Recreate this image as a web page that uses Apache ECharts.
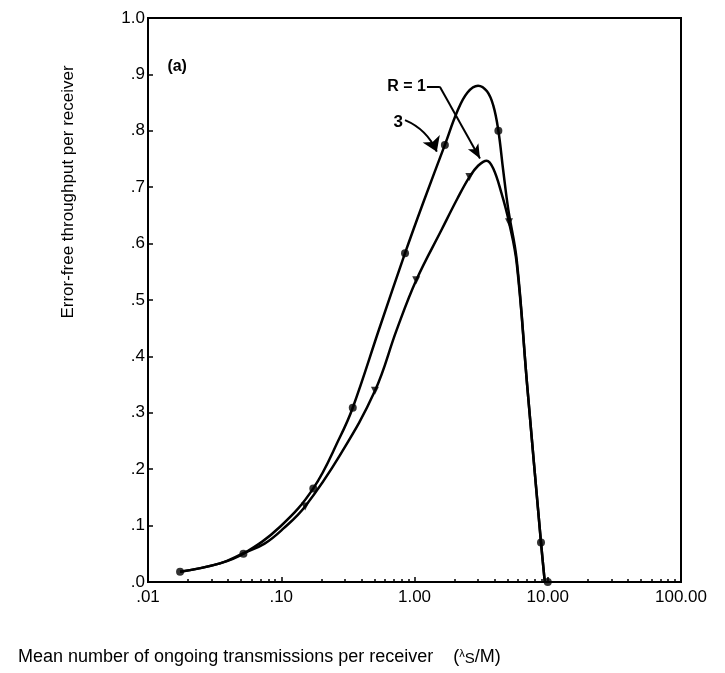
<!DOCTYPE html>
<html>
<head>
<meta charset="utf-8">
<script src="https://cdn.jsdelivr.net/npm/echarts@6/dist/echarts.min.js"></script>
<style>
  html, body { margin: 0; padding: 0; background: #fff; }
  #chart { width: 725px; height: 673px; }
</style>
</head>
<body>
<div id="chart"></div>
<script>
// R = 1 curve
var r1X = [0.0174, 0.0347, 0.052, 0.098, 0.174, 0.276, 0.344, 0.551, 0.849, 1.16, 1.69, 2.1, 2.5, 3.0, 3.5, 3.9, 4.26, 4.63, 5.06, 5.85, 7.0, 8.9, 9.5];
var r1Y = [0.018, 0.033, 0.050, 0.098, 0.166, 0.257, 0.309, 0.453, 0.583, 0.672, 0.775, 0.835, 0.868, 0.880, 0.870, 0.845, 0.800, 0.730, 0.660, 0.571, 0.35, 0.07, 0.0];
// R = 1 plotted points (circles)
var r1MarkX = [0.0174, 0.052, 0.174, 0.344, 0.849, 1.69, 4.26, 8.9, 10.0];
var r1MarkY = [0.018, 0.050, 0.166, 0.309, 0.583, 0.775, 0.800, 0.07, 0.0];

// R = 3 curve
var r3X = [0.0174, 0.0347, 0.052, 0.075, 0.104, 0.151, 0.276, 0.505, 0.735, 1.03, 1.6, 2.1, 2.58, 3.0, 3.48, 3.90, 4.50, 5.12, 5.85, 7.0, 8.9, 9.5];
var r3Y = [0.018, 0.033, 0.051, 0.068, 0.095, 0.134, 0.225, 0.339, 0.447, 0.535, 0.625, 0.680, 0.718, 0.738, 0.747, 0.733, 0.689, 0.638, 0.565, 0.35, 0.07, 0.0];
// R = 3 plotted points (triangles)
var r3MarkX = [0.151, 0.505, 1.03, 2.58, 5.12];
var r3MarkY = [0.134, 0.339, 0.535, 0.718, 0.638];

var font = 'Liberation Sans, Arial, sans-serif';

function pairs(xs, ys) {
    return xs.map(function (x, i) { return [x, ys[i]]; });
}

var myChart = echarts.init(document.getElementById('chart'));

var option = {
    animation: false,
    grid: {
        left: 148, right: 44, top: 18, bottom: 91,
        show: true,
        borderColor: '#000',
        borderWidth: 2
    },
    xAxis: {
        type: 'log',
        logBase: 10,
        min: 0.01,
        max: 100,
        axisLine: { lineStyle: { color: '#000', width: 2 } },
        axisTick: { inside: true, length: 5, lineStyle: { color: '#000', width: 1.5 } },
        minorTick: { show: true, splitNumber: 9, length: 3, lineStyle: { color: '#000', width: 1.5 } },
        splitLine: { show: false },
        axisLabel: {
            color: '#000',
            fontFamily: font,
            fontSize: 17,
            margin: 7,
            formatter: function (v) {
                return v < 1 ? v.toFixed(2).slice(1) : v.toFixed(2);
            }
        }
    },
    yAxis: {
        type: 'value',
        min: 0,
        max: 1,
        interval: 0.1,
        axisLine: { lineStyle: { color: '#000', width: 2 } },
        axisTick: { inside: true, length: 5, lineStyle: { color: '#000', width: 1.5 } },
        splitLine: { show: false },
        axisLabel: {
            color: '#000',
            fontFamily: font,
            fontSize: 17,
            margin: 3,
            formatter: function (v) {
                return v >= 1 ? '1.0' : '.' + Math.round(v * 10);
            }
        }
    },
    series: [
        {
            name: 'R=1',
            type: 'line',
            smooth: 0.4,
            showSymbol: false,
            lineStyle: { color: '#000', width: 2.5 },
            data: pairs(r1X, r1Y),
            // arrow from the "R = 1" label
            markLine: {
                silent: true,
                symbol: ['none', 'none'],
                label: { show: false },
                lineStyle: { color: '#000', width: 2, type: 'solid' },
                data: [
                    [{ coord: [1.24, 0.878] }, { coord: [1.55, 0.878] }],
                    [{ coord: [1.55, 0.878] }, { coord: [3.10, 0.751], symbol: 'arrow', symbolSize: [9, 14] }]
                ]
            }
        },
        {
            name: 'R=3',
            type: 'line',
            smooth: 0.4,
            showSymbol: false,
            lineStyle: { color: '#000', width: 2.5 },
            data: pairs(r3X, r3Y)
        },
        {
            // curved arrow from the "3" label
            name: 'arrow3',
            type: 'lines',
            coordinateSystem: 'cartesian2d',
            silent: true,
            symbol: ['none', 'arrow'],
            symbolSize: [9, 14],
            lineStyle: { color: '#000', width: 2, opacity: 1, curveness: 0.2 },
            data: [{ coords: [[0.849, 0.819], [1.47, 0.763]] }]
        },
        {
            name: 'R=1 points',
            type: 'scatter',
            symbol: 'circle',
            symbolSize: 8,
            itemStyle: { color: '#000' },
            data: pairs(r1MarkX, r1MarkY)
        },
        {
            name: 'R=3 points',
            type: 'scatter',
            symbol: 'triangle',
            symbolRotate: 180,
            symbolSize: 8,
            itemStyle: { color: '#000' },
            data: pairs(r3MarkX, r3MarkY)
        }
    ]
};
myChart.setOption(option);

// text labels placed in data coordinates
var pA = myChart.convertToPixel({ gridIndex: 0 }, [0.0172, 0.910]);
var pR = myChart.convertToPixel({ gridIndex: 0 }, [1.22, 0.878]);
var p3 = myChart.convertToPixel({ gridIndex: 0 }, [0.82, 0.815]);

myChart.setOption({
    graphic: [
        { type: 'text', left: pA[0] - 12, top: pA[1] - 10,
          style: { text: '(a)', font: 'bold 16px ' + font, fill: '#000' } },
        { type: 'text', x: pR[0], y: pR[1],
          style: { text: 'R = 1', font: 'bold 16px ' + font, fill: '#000', align: 'right', verticalAlign: 'middle' } },
        { type: 'text', x: p3[0], y: p3[1],
          style: { text: '3', font: 'bold 17px ' + font, fill: '#000', align: 'right', verticalAlign: 'middle' } },
        { type: 'text', x: 68, y: 192, rotation: Math.PI / 2,
          style: { text: 'Error-free throughput per receiver', font: '17px ' + font, fill: '#000',
                   align: 'center', verticalAlign: 'middle' } },
        { type: 'text', left: 18, top: 648,
          style: {
              rich: {
                  m: { font: '18px ' + font, fill: '#000' },
                  l: { font: '11px ' + font, fill: '#000', verticalAlign: 'top' },
                  s: { font: '15px ' + font, fill: '#000', verticalAlign: 'bottom' }
              },
              text: '{m|Mean number of ongoing transmissions per receiver    (}{l|λ}{s|S}{m|/M)}'
          } }
    ]
});

window.onresize = function () {
    myChart.resize();
};
</script>
</body>
</html>
